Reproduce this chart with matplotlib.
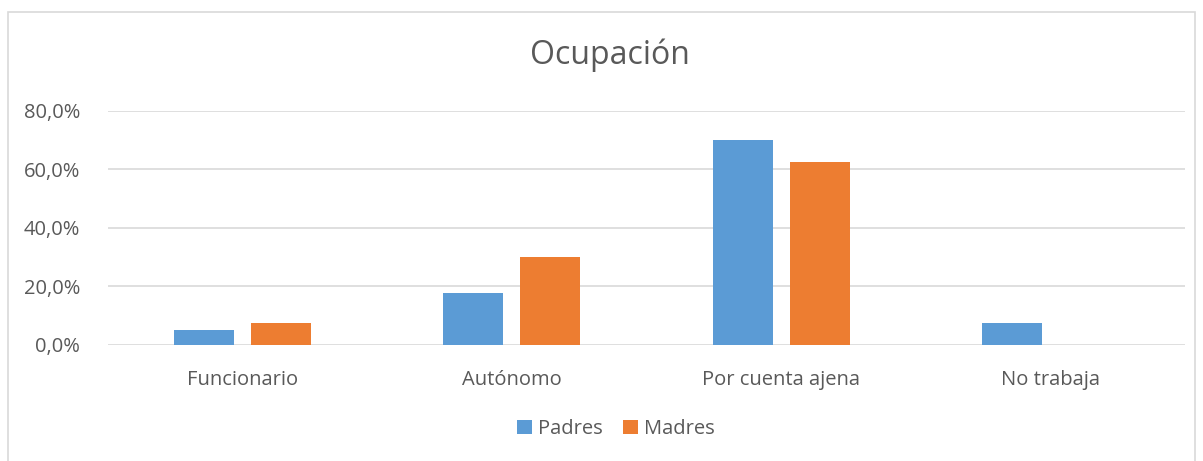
import numpy as np
import matplotlib
matplotlib.use("Agg")
import matplotlib.pyplot as plt
from matplotlib.patches import Rectangle
from matplotlib.ticker import FuncFormatter

categories = ["Funcionario", "Autónomo", "Por cuenta ajena", "No trabaja"]
padres = [0.05, 0.175, 0.70, 0.075]
madres = [0.075, 0.30, 0.625, 0.0]
yticks = [0.0, 0.2, 0.4, 0.6, 0.8]

blue = "#5B9BD5"
orange = "#ED7D31"
grey_text = "#595959"

plt.rcParams["font.family"] = ["Open Sans", "DejaVu Sans"]

fig = plt.figure(figsize=(12.03, 4.61), dpi=100)
# chart border
fig.patches.append(Rectangle((8 / 1203, -0.01), 1187 / 1203, 1 - 12 / 461 + 0.01,
                             transform=fig.transFigure, fill=False,
                             edgecolor="#D9D9D9", linewidth=1.2))

ax = fig.add_axes([108 / 1203, 1 - 344.5 / 461, 1077 / 1203, (344.5 - 110.5) / 461])

x = np.arange(len(categories))
w = 0.223
ax.bar(x - 0.143, padres, w, color=blue, label="Padres", zorder=3)
ax.bar(x + 0.143, madres, w, color=orange, label="Madres", zorder=3)

ax.set_xlim(-0.5, len(categories) - 0.5)
ax.set_ylim(0, 0.8)
ax.set_yticks(yticks)
ax.yaxis.set_major_formatter(FuncFormatter(lambda v, p: f"{v * 100:.1f}%".replace(".", ",")))
ax.set_xticks(x)
ax.set_xticklabels(categories)
ax.grid(axis="y", color="#D9D9D9", linewidth=1.2, zorder=0)
for s in ax.spines.values():
    s.set_visible(False)
ax.tick_params(length=0, labelsize=14.5, colors=grey_text)
ax.tick_params(axis="y", pad=20)
ax.tick_params(axis="x", pad=18)

fig.text(0.507, 1 - 55 / 461, "Ocupación", ha="center", va="center",
         fontsize=23, color=grey_text)

fig.legend(loc="center", bbox_to_anchor=(0.512, 1 - 429 / 461), ncol=2,
           frameon=False, fontsize=14.5, labelcolor=grey_text,
           handlelength=0.75, handleheight=0.75, handletextpad=0.3, columnspacing=1.0)

fig.savefig("out.png", dpi=100)
